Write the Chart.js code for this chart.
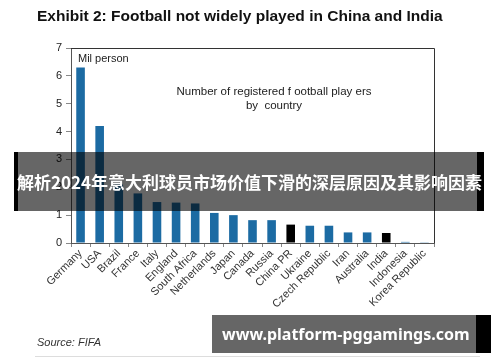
<!DOCTYPE html>
<html>
<head>
<meta charset="utf-8">
<script src="https://cdn.jsdelivr.net/npm/chart.js@4/dist/chart.umd.min.js"></script>
<style>
  html, body { margin: 0; padding: 0; background: #fff; }
  #wrap { position: relative; width: 500px; height: 362px; overflow: hidden; }
  #chart { position: absolute; left: 0; top: 0; }
  .band { position: absolute; background: rgba(0,0,0,0.6); color: #fff; font-weight: bold; white-space: nowrap; }
  .band .edge { position: absolute; top: 0; bottom: 0; background: #000; }
  #banner1 { left: 14px; top: 152px; width: 470px; height: 59px; font: bold 17px "Noto Sans CJK SC", sans-serif; }
  #banner1 span.t { position: absolute; left: 3px; top: 21px; line-height: 18px; }
  #banner2 { left: 212px; top: 315px; width: 279px; height: 38px; font: bold 16px "Noto Sans", sans-serif; }
  #banner2 span.t { position: absolute; left: 10px; top: 9px; line-height: 20px; }
</style>
</head>
<body>
<div id="wrap">
  <canvas id="chart" width="500" height="362"></canvas>
  <div class="band" id="banner1">
    <div class="edge" style="left:0;width:4px"></div>
    <div class="edge" style="right:0;width:7px"></div>
    <span class="t">解析2024年意大利球员市场价值下滑的深层原因及其影响因素</span>
  </div>
  <div class="band" id="banner2">
    <div class="edge" style="right:0;width:15px"></div>
    <span class="t">www.platform-pggamings.com</span>
  </div>
</div>
<script>
// registered football players, millions
const countries = ["Germany", "USA", "Brazil", "France", "Italy", "England", "South Africa",
  "Netherlands", "Japan", "Canada", "Russia", "China PR", "Ukraine", "Czech Republic",
  "Iran", "Australia", "India", "Indonesia", "Korea Republic"];
const players = [6.3, 4.2, 2.1, 1.78, 1.47, 1.45, 1.42, 1.08, 1.0, 0.82, 0.82, 0.66,
  0.62, 0.62, 0.38, 0.38, 0.36, 0.04, 0.01];
const highlight = ["China PR", "India"];
const yTicks = [0, 1, 2, 3, 4, 5, 6, 7];

const BLUE = "#1c6ba3";
const FONT = "'Liberation Sans', Arial, sans-serif";

// title, notes, frame
const extras = {
  id: "extras",
  afterDraw(c) {
    const ctx = c.ctx;
    const a = c.chartArea;
    ctx.save();
    ctx.strokeStyle = "#333";
    ctx.lineWidth = 1;
    ctx.beginPath();
    ctx.moveTo(a.left, a.top + 0.5);
    ctx.lineTo(a.right + 0.5, a.top + 0.5);
    ctx.lineTo(a.right + 0.5, a.bottom);
    ctx.stroke();

    ctx.fillStyle = "#111";
    ctx.textBaseline = "middle";
    ctx.font = "bold 15.5px " + FONT;
    ctx.textAlign = "left";
    ctx.fillText("Exhibit 2: Football not widely played in China and India", 37, 17);

    ctx.font = "11px " + FONT;
    ctx.fillStyle = "#222";
    ctx.fillText("Mil person", a.left + 7, a.top + 11);

    ctx.font = "11.5px " + FONT;
    ctx.textAlign = "center";
    ctx.fillText("Number of registered f ootball play ers", 274, 92);
    ctx.fillText("by  country", 274, 106);

    ctx.textAlign = "left";
    ctx.font = "italic 11px " + FONT;
    ctx.fillStyle = "#333";
    ctx.fillText("Source: FIFA", 37, 343);

    ctx.strokeStyle = "#ddd";
    ctx.beginPath();
    ctx.moveTo(35, 356.5);
    ctx.lineTo(480, 356.5);
    ctx.stroke();
    ctx.restore();
  }
};

new Chart(document.getElementById("chart"), {
  type: "bar",
  data: {
    labels: countries,
    datasets: [{
      data: players,
      backgroundColor: countries.map(c => highlight.includes(c) ? "#000" : BLUE),
      barPercentage: 0.45,
      categoryPercentage: 1
    }]
  },
  options: {
    responsive: false,
    animation: false,
    events: [],
    layout: { padding: { left: 0, right: 66, top: 48, bottom: 0 } },
    plugins: { legend: { display: false }, tooltip: { enabled: false } },
    scales: {
      x: {
        afterFit: s => { s.height = 119; },
        grid: { drawOnChartArea: false, tickLength: 4, color: "#888", offset: true },
        border: { color: "#555" },
        ticks: {
          maxRotation: 45, minRotation: 45, autoSkip: false, padding: 0,
          color: "#333", font: { family: FONT, size: 11 }
        }
      },
      y: {
        min: 0, max: 7,
        afterFit: s => { s.width = 71; },
        afterBuildTicks: s => { s.ticks = yTicks.map(v => ({ value: v })); },
        grid: { drawOnChartArea: false, tickLength: 5, color: "#888" },
        border: { color: "#555" },
        ticks: { color: "#222", padding: 4, font: { family: FONT, size: 11 } }
      }
    }
  },
  plugins: [extras]
});
</script>
</body>
</html>
